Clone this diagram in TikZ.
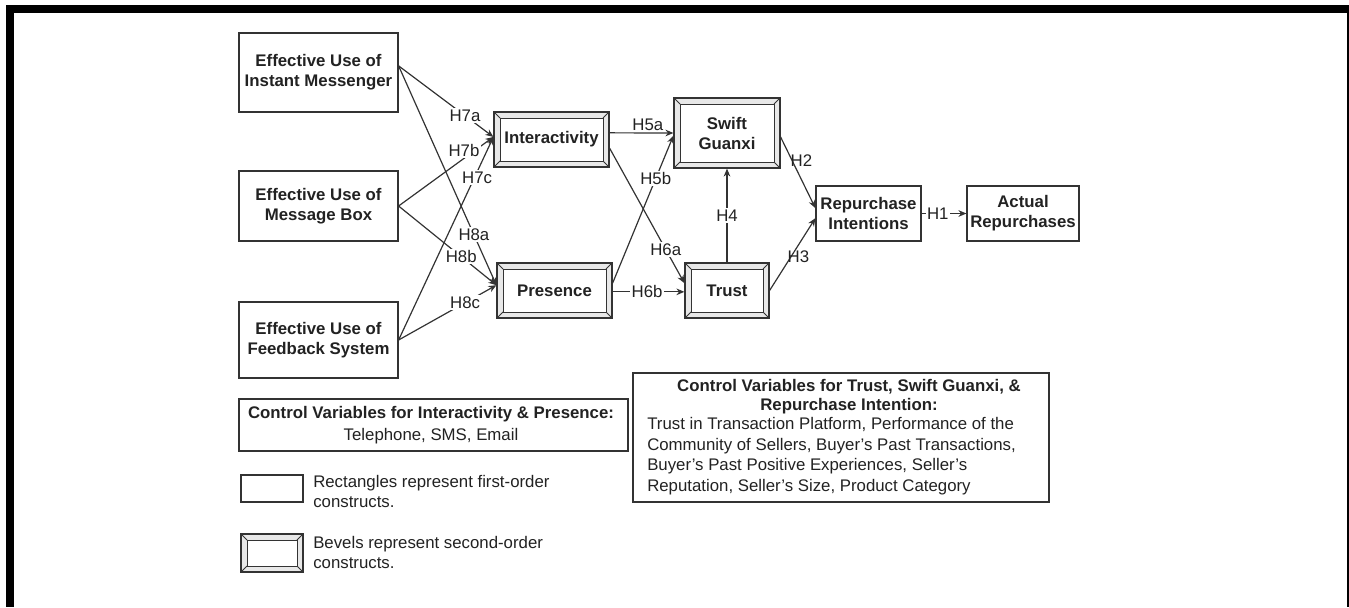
\documentclass[tikz,border=0pt]{standalone}
\usepackage{fontspec}
\setmainfont{Liberation Sans}
\usetikzlibrary{arrows.meta}
\definecolor{lc}{HTML}{333333}
\definecolor{tc}{HTML}{222222}
\begin{document}
\begin{tikzpicture}[x=0.75pt,y=-0.75pt,
  box/.style={draw=lc, line width=0.9pt, text=tc, align=center,
    font=\bfseries\fontsize{12.6}{15}\selectfont, inner sep=0pt},
  bevel/.style={box, fill=gray!18, path picture={
    \draw[lc, line width=0.7pt, fill=white]
      ([shift={(4.5pt,4.5pt)}]path picture bounding box.south west) rectangle
      ([shift={(-4.5pt,-4.5pt)}]path picture bounding box.north east);
    \draw[lc, line width=0.6pt] (path picture bounding box.south west) -- ++(4.5pt,4.5pt);
    \draw[lc, line width=0.6pt] (path picture bounding box.north west) -- ++(4.5pt,-4.5pt);
    \draw[lc, line width=0.6pt] (path picture bounding box.north east) -- ++(-4.5pt,-4.5pt);
    \draw[lc, line width=0.6pt] (path picture bounding box.south east) -- ++(-4.5pt,4.5pt);
  }},
  arr/.style={draw=lc, line width=0.9pt, -{Stealth[length=6pt,width=5pt]}},
  lab/.style={fill=white, inner sep=1pt, text=tc, font=\fontsize{12.6}{14}\selectfont},
  labn/.style={inner sep=0pt, text=tc, font=\fontsize{12.6}{14}\selectfont},
  txt/.style={inner sep=0pt, text=tc, font=\fontsize{12.6}{15}\selectfont},
]
\useasboundingbox (0,0) rectangle (1349,607);
% frame
\fill[black] (6,5) rectangle (14,607);
\fill[black] (6,5) rectangle (1349,13);
\fill[black] (1346.5,5) rectangle (1349,607);

% first-order constructs
\node[box, minimum width=119.25pt, minimum height=59.25pt] (im) at (318.5,72.5) {Effective Use of\\Instant Messenger};
\node[box, minimum width=119.25pt, minimum height=52.5pt] (mb) at (318.5,206) {Effective Use of\\Message Box};
\node[box, minimum width=119.25pt, minimum height=57pt] (fs) at (318.5,340) {Effective Use of\\Feedback System};
\node[box, minimum width=78.75pt, minimum height=41.25pt] (ri) at (868.5,213.5) {Repurchase\\Intentions};
\node[box, minimum width=84pt, minimum height=41.25pt] (ar) at (1023,213.5) {Actual\\Repurchases};

% second-order constructs
\node[bevel, minimum width=86.25pt, minimum height=41.25pt] (int) at (551.5,139.5) {Interactivity};
\node[bevel, minimum width=86.25pt, minimum height=41.25pt] (pres) at (554.5,290.5) {Presence};
\node[bevel, minimum width=79.5pt, minimum height=52.5pt] (sg) at (727,133) {Swift\\Guanxi};
\node[bevel, minimum width=63pt, minimum height=41.25pt] (tr) at (727,290.5) {Trust};

% paths
\draw[arr] ([yshift=5pt]im.east) -- node[lab,pos=0.7]{H7a} ([yshift=1.9pt]int.west);
\draw[arr] ([yshift=5pt]im.east) -- node[lab,pos=0.77]{H8a} ([yshift=4pt]pres.west);
\draw[arr] (mb.east) -- node[lab,pos=0.69,yshift=6pt]{H7b} ([yshift=1.9pt]int.west);
\draw[arr] (mb.east) -- node[lab,pos=0.64]{H8b} ([yshift=4pt]pres.west);
\draw[arr] (fs.east) -- node[lab,pos=0.8,xshift=2pt]{H7c} ([yshift=1.9pt]int.west);
\draw[arr] (fs.east) -- node[lab,pos=0.68]{H8c} ([yshift=4pt]pres.west);

\draw[arr] ([yshift=5pt]int.east) -- node[labn,above=1pt,pos=0.6]{H5a} (sg.west);
\draw[arr] ([yshift=-6.5pt]int.east) -- node[lab,pos=0.75]{H6a} ([yshift=5.5pt]tr.west);
\draw[arr] ([yshift=5.5pt]pres.east) -- node[lab,pos=0.71]{H5b} ([yshift=-2pt]sg.west);
\draw[arr] ([yshift=-1pt]pres.east) -- node[lab,pos=0.48]{H6b} ([yshift=-1pt]tr.west);
\draw[arr] (tr.north) -- node[lab,pos=0.5]{H4} (sg.south);
\draw[arr] ([yshift=-3pt]sg.east) -- node[labn,anchor=west,pos=0.33,xshift=-1.5pt]{H2} ([yshift=4pt]ri.west);
\draw[arr] (tr.east) -- node[labn,anchor=west,pos=0.47,xshift=-3pt]{H3} ([yshift=-3.5pt]ri.west);
\draw[arr] (ri.east) -- node[lab,pos=0.36]{H1} (ar.west);

% control variables
\node[draw=lc, line width=0.8pt, minimum width=291.75pt, minimum height=39pt] (c1) at (433.5,425) {};
\node[txt, align=center, font=\fontsize{12.6}{16.5}\selectfont] (c1t) at (431,425)
  {\textbf{Control Variables for Interactivity \& Presence:}\\Telephone, SMS, Email};

\node[draw=lc, line width=0.8pt, minimum width=312pt, minimum height=96.75pt] (c2) at (841,437.5) {};
\node[txt, align=center, font=\bfseries\fontsize{12.6}{14.25}\selectfont] (c2t) at (849,396.5)
  {Control Variables for Trust, Swift Guanxi, \&\\Repurchase Intention:};
\node[txt, align=left, anchor=west, font=\fontsize{12.6}{15.5}\selectfont] (c2b) at (647,456)
  {Trust in Transaction Platform, Performance of the\\Community of Sellers, Buyer's Past Transactions,\\Buyer's Past Positive Experiences, Seller's\\Reputation, Seller's Size, Product Category};

% legend
\node[draw=lc, line width=0.8pt, minimum width=46.5pt, minimum height=20.25pt, inner sep=0pt] (leg1) at (272,488.5) {};
\node[txt, align=left, anchor=west] (leg1t) at (313,491) {Rectangles represent first-order\\constructs.};
\node[bevel, minimum width=46.5pt, minimum height=28.5pt] (leg2) at (272,553) {};
\node[txt, align=left, anchor=west] (leg2t) at (313,552.5) {Bevels represent second-order\\constructs.};
\end{tikzpicture}
\end{document}
